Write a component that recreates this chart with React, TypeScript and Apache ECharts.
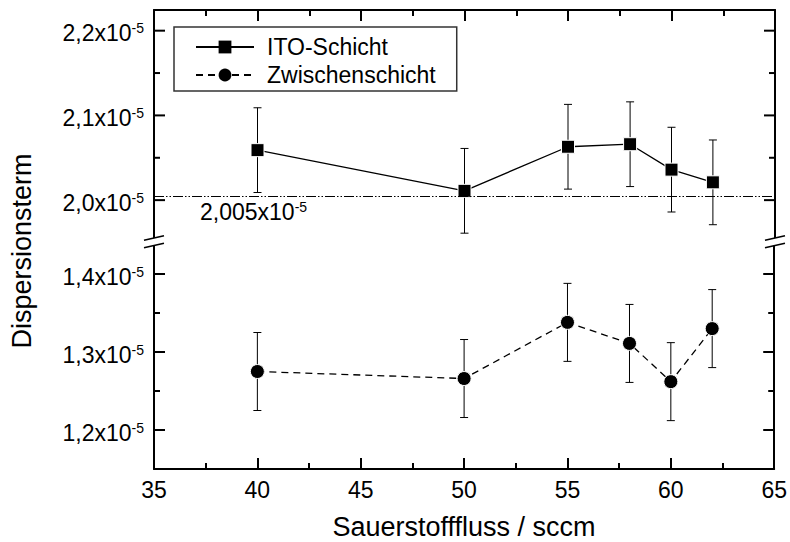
import React, { useEffect, useRef } from "react";
import * as echarts from "echarts";

// Values in units of 1e-5
const xValues = [40, 50, 55, 58, 60, 62];
const itoValues = [2.059, 2.011, 2.063, 2.066, 2.036, 2.021];
const itoErrors = [0.05, 0.05, 0.05, 0.05, 0.05, 0.05];
const zwValues = [1.275, 1.266, 1.338, 1.311, 1.262, 1.330];
const zwErrors = [0.05, 0.05, 0.05, 0.05, 0.05, 0.05];
const referenceValue = 2.005;

const upperMajorTicks = [2.0, 2.1, 2.2];
const upperMinorTicks = [2.05, 2.15];
const lowerMajorTicks = [1.2, 1.3, 1.4];
const lowerMinorTicks = [1.25, 1.35];

const FONT = "'Liberation Sans', Arial, sans-serif";

const X_MIN = 35;
const X_MAX = 65;
const upperMin = 1.95118;
const upperMax = 2.2244;
const lowerMin = 1.15;
const lowerMax = 1.44167;

const fmt = (v: number) => `{a|${v.toFixed(1).replace(".", ",")}x10}{b|-5}`;

const richLabel = {
  a: { fontSize: 23, fontFamily: FONT, color: "#000", lineHeight: 24 },
  b: { fontSize: 14, fontFamily: FONT, color: "#000", lineHeight: 14, verticalAlign: "top" },
};

function yAxisSet(grid: number, min: number, max: number, labels: number[]) {
  const base = { type: "value", gridIndex: grid, min, max, splitLine: { show: false } };
  const line = { show: true, onZero: false, lineStyle: { color: "#000", width: 2 } };
  return [
    {
      ...base,
      position: "left",
      axisLine: line,
      axisTick: { show: false },
      axisLabel: { show: true, customValues: labels, margin: 10, padding: [5, 0, 0, 0], formatter: fmt, rich: richLabel },
    },
    { ...base, position: "right", axisLine: line, axisTick: { show: false }, axisLabel: { show: false } },
  ];
}

function errorSeries(name: string, xi: number, yi: number, vals: number[], errs: number[]) {
  return {
    name,
    type: "custom",
    xAxisIndex: xi,
    yAxisIndex: yi,
    z: 1,
    silent: true,
    encode: { x: 0, y: [1, 2] },
    data: xValues.map((x, i) => [x, vals[i] - errs[i], vals[i] + errs[i]]),
    renderItem: (params: any, api: any) => {
      const x = api.value(0);
      const lo = api.coord([x, api.value(1)]);
      const hi = api.coord([x, api.value(2)]);
      const w = 4;
      const st = { stroke: "#000", lineWidth: 1 };
      return {
        type: "group",
        children: [
          { type: "line", shape: { x1: hi[0], y1: hi[1], x2: lo[0], y2: lo[1] }, style: st },
          { type: "line", shape: { x1: hi[0] - w, y1: hi[1], x2: hi[0] + w, y2: hi[1] }, style: st },
          { type: "line", shape: { x1: lo[0] - w, y1: lo[1], x2: lo[0] + w, y2: lo[1] }, style: st },
        ],
      };
    },
  };
}

function breakMark(cx: number) {
  const s = 0.23;
  const yTop = (x: number) => 238 - s * (x - cx);
  const yBot = (x: number) => 245.5 - s * (x - cx);
  return [
    {
      type: "polygon",
      shape: {
        points: [
          [cx - 13, yTop(cx - 13)],
          [cx + 13, yTop(cx + 13)],
          [cx + 13, yBot(cx + 13)],
          [cx - 13, yBot(cx - 13)],
        ],
      },
      style: { fill: "#fff" },
      z: 100,
    },
    {
      type: "line",
      shape: { x1: cx - 10, y1: yTop(cx - 10), x2: cx + 10, y2: yTop(cx + 10) },
      style: { stroke: "#000", lineWidth: 1.5 },
      z: 101,
    },
    {
      type: "line",
      shape: { x1: cx - 10, y1: yBot(cx - 10), x2: cx + 10, y2: yBot(cx + 10) },
      style: { stroke: "#000", lineWidth: 1.5 },
      z: 101,
    },
  ];
}

const baseGraphics: any[] = [
  ...breakMark(154),
  ...breakMark(775),
  {
    type: "text",
    x: 200,
    y: 212,
    style: { text: "{a|2,005x10}{b|-5}", rich: richLabel, align: "left", verticalAlign: "middle" },
    z: 50,
  },
  {
    type: "text",
    x: 22,
    y: 251,
    rotation: Math.PI / 2,
    style: { text: "Dispersionsterm", fontSize: 27, fontFamily: FONT, fill: "#000", align: "center", verticalAlign: "middle" },
  },
  {
    type: "text",
    x: 464,
    y: 527,
    style: { text: "Sauerstofffluss / sccm", fontSize: 27, fontFamily: FONT, fill: "#000", align: "center", verticalAlign: "middle" },
  },
];

export default function App() {
  const ref = useRef<HTMLDivElement>(null);
  useEffect(() => {
    if (!ref.current) return;
    const chart = echarts.init(ref.current, undefined, { renderer: "svg" });
    const xBase = { type: "value", min: X_MIN, max: X_MAX, interval: 5, splitLine: { show: false } };
    chart.setOption({
      animation: false,
      backgroundColor: "#fff",
      textStyle: { fontFamily: FONT },
      grid: [
        { left: 154, right: 15, top: 10, height: 231.5 },
        { left: 154, right: 15, top: 241.5, height: 227.5 },
      ],
      xAxis: [
        {
          ...xBase,
          gridIndex: 0,
          position: "top",
          axisLine: { show: true, onZero: false, lineStyle: { color: "#000", width: 2 } },
          axisTick: { show: true, inside: true, length: 11, lineStyle: { color: "#000", width: 2 } },
          minorTick: { show: true, splitNumber: 2, length: 6, lineStyle: { color: "#000", width: 2 } },
          axisLabel: { show: false },
        },
        {
          ...xBase,
          gridIndex: 1,
          position: "bottom",
          axisLine: { show: true, onZero: false, lineStyle: { color: "#000", width: 2 } },
          axisTick: { show: true, inside: true, length: 11, lineStyle: { color: "#000", width: 2 } },
          minorTick: { show: true, splitNumber: 2, length: 6, lineStyle: { color: "#000", width: 2 } },
          axisLabel: { show: true, margin: 9, fontSize: 23, fontFamily: FONT, color: "#000" },
        },
      ],
      yAxis: [
        ...yAxisSet(0, upperMin, upperMax, upperMajorTicks),
        ...yAxisSet(1, lowerMin, lowerMax, lowerMajorTicks),
      ],
      legend: {
        data: ["ITO-Schicht", "Zwischenschicht"],
        orient: "vertical",
        left: 174,
        top: 27,
        padding: [8, 21, 4, 21],
        itemGap: 4,
        itemWidth: 58,
        itemHeight: 16,
        itemStyle: { borderWidth: 0 },
        borderColor: "#333",
        borderWidth: 1.5,
        backgroundColor: "#fff",
        textStyle: { fontSize: 23, fontFamily: FONT, color: "#000", lineHeight: 24, padding: [0, 0, 0, 8] },
      },
      series: [
        errorSeries("err-ito", 0, 0, itoValues, itoErrors),
        errorSeries("err-zw", 1, 2, zwValues, zwErrors),
        {
          name: "ITO-Schicht",
          type: "line",
          xAxisIndex: 0,
          yAxisIndex: 0,
          z: 3,
          data: xValues.map((x, i) => [x, itoValues[i]]),
          symbol: "rect",
          symbolSize: 13,
          itemStyle: { color: "#000", borderColor: "#fff", borderWidth: 1 },
          lineStyle: { color: "#000", width: 1.3, type: "solid" },
          markLine: {
            silent: true,
            precision: 4,
            symbol: ["none", "none"],
            label: { show: false },
            lineStyle: { color: "#000", width: 1, type: [10, 2, 1.5, 2, 1.5, 2] },
            data: [{ yAxis: referenceValue }],
          },
        },
        {
          name: "Zwischenschicht",
          type: "line",
          xAxisIndex: 1,
          yAxisIndex: 2,
          z: 3,
          data: xValues.map((x, i) => [x, zwValues[i]]),
          symbol: "circle",
          symbolSize: 14,
          itemStyle: { color: "#000", borderColor: "#fff", borderWidth: 1 },
          lineStyle: { color: "#000", width: 1.3, type: [7, 5] },
        },
      ],
      graphic: baseGraphics,
    });

    // y tick marks on both frame sides, positioned with each grid's y scale
    const tickGraphics: any[] = [];
    const addTicks = (xi: number, yi: number, values: number[], len: number) => {
      const xl = chart.convertToPixel({ xAxisIndex: xi }, X_MIN) as number;
      const xr = chart.convertToPixel({ xAxisIndex: xi }, X_MAX) as number;
      values.forEach((v) => {
        const y = chart.convertToPixel({ yAxisIndex: yi }, v) as number;
        const st = { stroke: "#000", lineWidth: 2 };
        tickGraphics.push({ type: "line", z: 90, shape: { x1: xl, y1: y, x2: xl + len, y2: y }, style: st });
        tickGraphics.push({ type: "line", z: 90, shape: { x1: xr - len, y1: y, x2: xr, y2: y }, style: st });
      });
    };
    addTicks(0, 0, upperMajorTicks, 11);
    addTicks(0, 0, upperMinorTicks, 6);
    addTicks(1, 2, lowerMajorTicks, 11);
    addTicks(1, 2, lowerMinorTicks, 6);
    chart.setOption({ graphic: [...baseGraphics, ...tickGraphics] });

    return () => chart.dispose();
  }, []);
  return (
    <div
      ref={ref}
      style={{ position: "fixed", left: 0, top: 0, width: 790, height: 542 }}
    />
  );
}
